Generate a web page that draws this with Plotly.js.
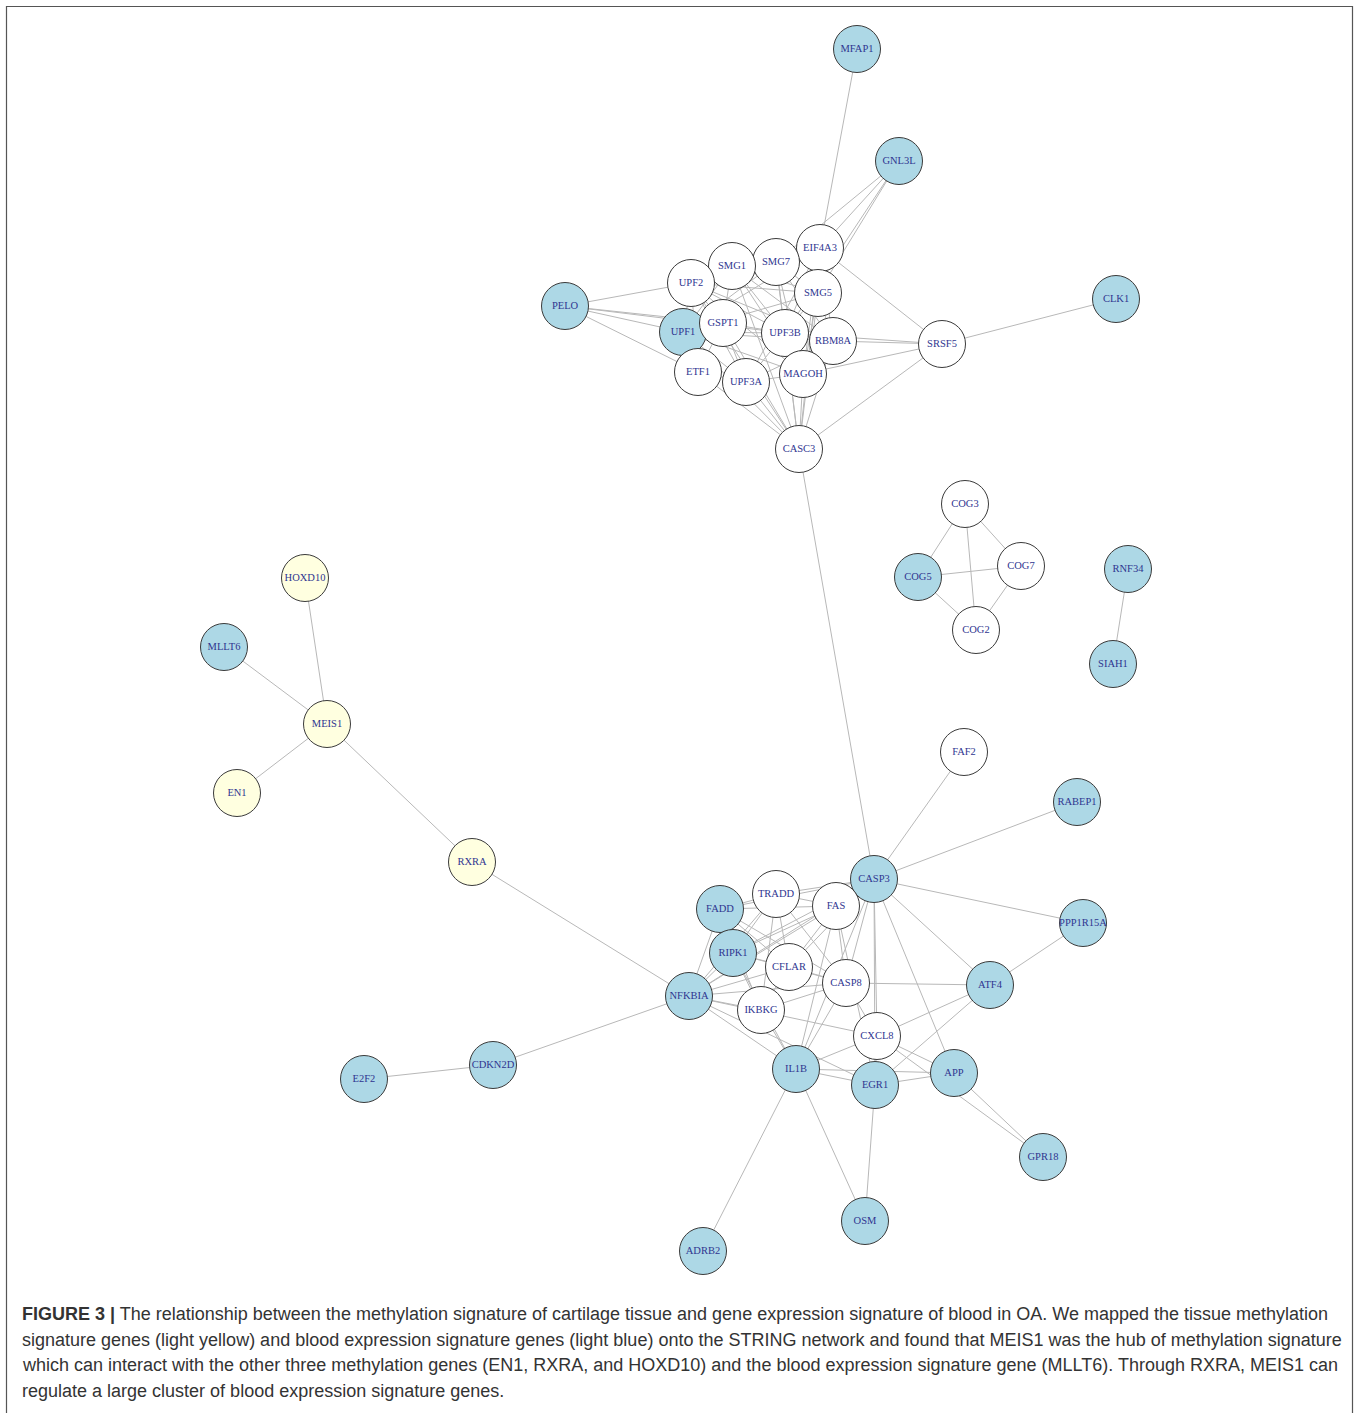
<!DOCTYPE html>
<html>
<head>
<meta charset="utf-8">
<script src="https://cdn.plot.ly/plotly-3.0.1.min.js"></script>
<style>
html,body{margin:0;padding:0;background:#fff;}
#chart{width:1357px;height:1413px;}
</style>
</head>
<body>
<div id="chart"></div>
<script>
// ---- node data (layout position) ----
const nodeNames = ["MFAP1","GNL3L","EIF4A3","SMG7","SMG1","UPF2","PELO","UPF1","GSPT1","UPF3B","SMG5","RBM8A","SRSF5","CLK1","ETF1","UPF3A","MAGOH","CASC3",
  "COG3","COG5","COG7","COG2","RNF34","SIAH1",
  "HOXD10","MLLT6","MEIS1","EN1","RXRA",
  "FAF2","RABEP1","CASP3","TRADD","FAS","FADD","RIPK1","CFLAR","CASP8","PPP1R15A","NFKBIA","IKBKG","ATF4","CXCL8","IL1B","EGR1","APP","GPR18","OSM","ADRB2","E2F2","CDKN2D"];
const nodeX = [857,899,820,776,732,691,565,683,723,785,818,833,942,1116,698,746,803,799,
  965,918,1021,976,1128,1113,
  305,224,327,237,472,
  964,1077,874,776,836,720,733,789,846,1083,689,761,990,877,796,875,954,1043,865,703,364,493];
const nodeY = [49,161,248,262,266,283,306,332,323,333,293,341,344,299,372,382,374,449,
  504,577,566,630,569,664,
  578,647,724,793,862,
  752,802,879,894,906,909,953,967,983,923,996,1010,985,1036,1069,1085,1073,1157,1221,1251,1079,1065];
const blueGenes = ["MFAP1","GNL3L","PELO","UPF1","CLK1","COG5","RNF34","SIAH1","MLLT6","CASP3","FADD","RIPK1","NFKBIA","ATF4","IL1B","EGR1","APP","RABEP1","PPP1R15A","GPR18","OSM","ADRB2","E2F2","CDKN2D"];
const yellowGenes = ["HOXD10","MEIS1","EN1","RXRA"];

// ---- edges ----
const edgeFrom = [
 "UPF1","UPF1","UPF1","UPF1","UPF1","UPF1","UPF1","UPF1","UPF1","UPF1","UPF1","UPF1",
 "UPF2","UPF2","UPF2","UPF2","UPF2","UPF2","UPF2","UPF2","UPF2","UPF2","UPF2",
 "SMG1","SMG1","SMG1","SMG1","SMG1","SMG1","SMG1","SMG1",
 "SMG7","SMG7","SMG7","SMG7","SMG7","SMG7",
 "EIF4A3","EIF4A3","EIF4A3","EIF4A3","EIF4A3","EIF4A3","EIF4A3",
 "SMG5","SMG5","SMG5","SMG5",
 "GSPT1","GSPT1","GSPT1","GSPT1",
 "UPF3B","UPF3B","UPF3B","UPF3B","UPF3B",
 "RBM8A","RBM8A","RBM8A","RBM8A",
 "ETF1","ETF1","UPF3A","UPF3A","MAGOH","MAGOH","CASC3",
 "PELO","PELO","PELO","PELO","PELO",
 "MFAP1","GNL3L","GNL3L","GNL3L","GNL3L","CLK1","CASC3",
 "COG3","COG3","COG3","COG5","COG5","COG7","RNF34",
 "CASP3","CASP3","CASP3","CASP3","CASP3","CASP3","CASP3","CASP3","CASP3","CASP3","CASP3","CASP3","CASP3","CASP3","CASP3",
 "TRADD","TRADD","TRADD","TRADD","TRADD","TRADD","TRADD",
 "FAS","FAS","FAS","FAS","FAS","FAS","FAS",
 "FADD","FADD","FADD","FADD","FADD",
 "RIPK1","RIPK1","RIPK1","RIPK1","RIPK1",
 "CFLAR","CFLAR","CFLAR",
 "CASP8","CASP8","CASP8","CASP8","CASP8",
 "NFKBIA","NFKBIA","NFKBIA","NFKBIA","NFKBIA","NFKBIA",
 "IKBKG","CXCL8","CXCL8","CXCL8","CXCL8","CXCL8",
 "IL1B","IL1B","IL1B","IL1B","EGR1","EGR1","EGR1","APP","ATF4",
 "CDKN2D","RXRA","MEIS1","MEIS1","MEIS1"];
const edgeTo = [
 "UPF2","SMG1","SMG7","EIF4A3","SMG5","GSPT1","UPF3B","RBM8A","ETF1","UPF3A","MAGOH","CASC3",
 "SMG1","SMG7","EIF4A3","SMG5","GSPT1","UPF3B","RBM8A","UPF3A","MAGOH","CASC3","ETF1",
 "SMG7","EIF4A3","SMG5","UPF3B","RBM8A","MAGOH","CASC3","GSPT1",
 "EIF4A3","SMG5","UPF3B","RBM8A","MAGOH","CASC3",
 "SMG5","UPF3B","RBM8A","MAGOH","CASC3","UPF3A","SRSF5",
 "UPF3B","RBM8A","MAGOH","CASC3",
 "ETF1","UPF3B","UPF3A","CASC3",
 "RBM8A","MAGOH","UPF3A","CASC3","SRSF5",
 "MAGOH","UPF3A","CASC3","SRSF5",
 "UPF3A","CASC3","MAGOH","CASC3","CASC3","SRSF5","SRSF5",
 "UPF2","UPF1","GSPT1","ETF1","UPF3B",
 "EIF4A3","EIF4A3","SMG7","UPF3B","SMG5","SRSF5","CASP3",
 "COG5","COG7","COG2","COG7","COG2","COG2","SIAH1",
 "TRADD","FAS","FADD","RIPK1","CFLAR","CASP8","NFKBIA","CXCL8","IL1B","EGR1","APP","ATF4","FAF2","RABEP1","PPP1R15A",
 "FAS","FADD","RIPK1","CFLAR","CASP8","NFKBIA","IKBKG",
 "FADD","RIPK1","CFLAR","CASP8","NFKBIA","IL1B","EGR1",
 "RIPK1","CFLAR","CASP8","IKBKG","NFKBIA",
 "CFLAR","CASP8","NFKBIA","IKBKG","IL1B",
 "CASP8","NFKBIA","IKBKG",
 "IKBKG","NFKBIA","ATF4","IL1B","CXCL8",
 "IKBKG","IL1B","CXCL8","EGR1","CDKN2D","RXRA",
 "IL1B","IL1B","EGR1","APP","ATF4","GPR18",
 "EGR1","APP","ADRB2","OSM","APP","ATF4","OSM","GPR18","PPP1R15A",
 "E2F2","MEIS1","HOXD10","MLLT6","EN1"];

const captionLines = [
 "<b>FIGURE 3 |</b> The relationship between the methylation signature of cartilage tissue and gene expression signature of blood in OA. We mapped the tissue methylation",
 "signature genes (light yellow) and blood expression signature genes (light blue) onto the STRING network and found that MEIS1 was the hub of methylation signature",
 "which can interact with the other three methylation genes (EN1, RXRA, and HOXD10) and the blood expression signature gene (MLLT6). Through RXRA, MEIS1 can",
 "regulate a large cluster of blood expression signature genes."
];

// ---- build traces ----
const idx = {};
nodeNames.forEach((n,i)=>idx[n]=i);
const ex=[], ey=[];
for(let k=0;k<edgeFrom.length;k++){
  const a=idx[edgeFrom[k]], b=idx[edgeTo[k]];
  ex.push(nodeX[a], nodeX[b], null);
  ey.push(nodeY[a], nodeY[b], null);
}
const fills = nodeNames.map(n => blueGenes.includes(n) ? "#add8e6" : (yellowGenes.includes(n) ? "#ffffe0" : "#ffffff"));

const edgeTrace = {x:ex, y:ey, mode:"lines", type:"scatter", line:{color:"#b8b8b8", width:1}, hoverinfo:"skip", showlegend:false};
const nodeTrace = {x:nodeX, y:nodeY, text:nodeNames, mode:"markers+text", type:"scatter",
  marker:{size:47, color:fills, line:{color:"#3a3a3a", width:1}, opacity:1},
  textposition:"middle center", textfont:{family:"Liberation Serif, serif", size:10.5, color:"#2f3590"},
  hoverinfo:"text", showlegend:false, cliponaxis:false};

const W=1357, H=1413;
const annotations = captionLines.map((t,i)=>({
  text:t, xref:"paper", yref:"paper", x:20/W, y:1-(1314+i*25.7)/H, xanchor:"left", yanchor:"middle",
  showarrow:false, align:"left", font:{family:"Liberation Sans, Arial, sans-serif", size:18, color:"#333333"}
}));

const layout = {
  width:W, height:H, margin:{l:0,r:0,t:0,b:0}, paper_bgcolor:"#ffffff", plot_bgcolor:"#ffffff",
  xaxis:{range:[0,W], visible:false, showgrid:false, zeroline:false, fixedrange:true},
  yaxis:{range:[H,0], visible:false, showgrid:false, zeroline:false, fixedrange:true},
  showlegend:false,
  annotations: annotations,
  shapes:[{type:"rect", xref:"paper", yref:"paper", x0:6.5/W, x1:1352.5/W, y0:-0.02, y1:1-6.5/H, line:{color:"#555555", width:1.2}, fillcolor:"rgba(0,0,0,0)", layer:"below"}]
};
Plotly.newPlot("chart",[edgeTrace,nodeTrace],layout,{displayModeBar:false, staticPlot:true});
</script>
</body>
</html>
